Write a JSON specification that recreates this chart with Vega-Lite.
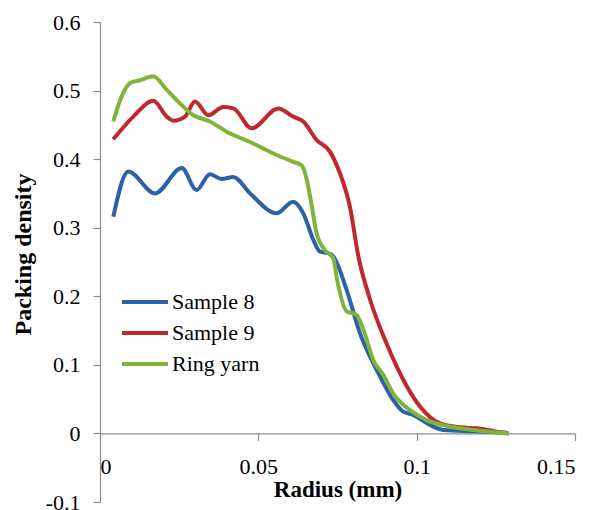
{
  "$schema": "https://vega.github.io/schema/vega-lite/v6.json",
  "width": 475,
  "height": 480,
  "autosize": {"type": "none"},
  "padding": {"left": 100, "top": 22, "right": 22, "bottom": 8},
  "background": "white",
  "config": {
    "view": {"stroke": null},
    "font": "Liberation Serif, Times New Roman, serif",
    "axis": {"grid": false, "domainColor": "#8c8c8c", "tickColor": "#8c8c8c", "labelColor": "black", "titleColor": "black", "labelFont": "Liberation Serif, Times New Roman, serif", "titleFont": "Liberation Serif, Times New Roman, serif", "labelFontSize": 22, "titleFontSize": 23, "titleFontWeight": "bold", "domainWidth": 1.2, "tickWidth": 1.2}
  },
  "data": {"values": [
    {"s": "Sample 8", "x": 0.0042, "y": 0.316},
    {"s": "Sample 8", "x": 0.0089, "y": 0.382},
    {"s": "Sample 8", "x": 0.0174, "y": 0.350},
    {"s": "Sample 8", "x": 0.0258, "y": 0.387},
    {"s": "Sample 8", "x": 0.0305, "y": 0.355},
    {"s": "Sample 8", "x": 0.0347, "y": 0.378},
    {"s": "Sample 8", "x": 0.0384, "y": 0.371},
    {"s": "Sample 8", "x": 0.0421, "y": 0.374},
    {"s": "Sample 8", "x": 0.0474, "y": 0.350},
    {"s": "Sample 8", "x": 0.0558, "y": 0.321},
    {"s": "Sample 8", "x": 0.0610, "y": 0.338},
    {"s": "Sample 8", "x": 0.0642, "y": 0.321},
    {"s": "Sample 8", "x": 0.0674, "y": 0.282},
    {"s": "Sample 8", "x": 0.0695, "y": 0.265},
    {"s": "Sample 8", "x": 0.0721, "y": 0.263},
    {"s": "Sample 8", "x": 0.0737, "y": 0.258},
    {"s": "Sample 8", "x": 0.0779, "y": 0.209},
    {"s": "Sample 8", "x": 0.0821, "y": 0.146},
    {"s": "Sample 8", "x": 0.0874, "y": 0.0925},
    {"s": "Sample 8", "x": 0.0926, "y": 0.0487},
    {"s": "Sample 8", "x": 0.0958, "y": 0.0317},
    {"s": "Sample 8", "x": 0.0990, "y": 0.0268},
    {"s": "Sample 8", "x": 0.1042, "y": 0.0122},
    {"s": "Sample 8", "x": 0.1084, "y": 0.005},
    {"s": "Sample 8", "x": 0.1180, "y": 0.003},
    {"s": "Sample 8", "x": 0.1284, "y": 0.001},
    {"s": "Sample 9", "x": 0.0042, "y": 0.429},
    {"s": "Sample 9", "x": 0.0105, "y": 0.462},
    {"s": "Sample 9", "x": 0.0168, "y": 0.485},
    {"s": "Sample 9", "x": 0.0211, "y": 0.462},
    {"s": "Sample 9", "x": 0.0232, "y": 0.456},
    {"s": "Sample 9", "x": 0.0268, "y": 0.462},
    {"s": "Sample 9", "x": 0.0300, "y": 0.484},
    {"s": "Sample 9", "x": 0.0342, "y": 0.464},
    {"s": "Sample 9", "x": 0.0389, "y": 0.476},
    {"s": "Sample 9", "x": 0.0421, "y": 0.474},
    {"s": "Sample 9", "x": 0.0479, "y": 0.445},
    {"s": "Sample 9", "x": 0.0563, "y": 0.474},
    {"s": "Sample 9", "x": 0.0610, "y": 0.462},
    {"s": "Sample 9", "x": 0.0642, "y": 0.455},
    {"s": "Sample 9", "x": 0.0684, "y": 0.428},
    {"s": "Sample 9", "x": 0.0726, "y": 0.411},
    {"s": "Sample 9", "x": 0.0758, "y": 0.379},
    {"s": "Sample 9", "x": 0.0789, "y": 0.331},
    {"s": "Sample 9", "x": 0.0816, "y": 0.258},
    {"s": "Sample 9", "x": 0.0853, "y": 0.195},
    {"s": "Sample 9", "x": 0.0905, "y": 0.131},
    {"s": "Sample 9", "x": 0.0958, "y": 0.078},
    {"s": "Sample 9", "x": 0.1011, "y": 0.039},
    {"s": "Sample 9", "x": 0.1074, "y": 0.0147},
    {"s": "Sample 9", "x": 0.1137, "y": 0.0089},
    {"s": "Sample 9", "x": 0.1190, "y": 0.0074},
    {"s": "Sample 9", "x": 0.1253, "y": 0.0025},
    {"s": "Sample 9", "x": 0.1290, "y": 0.0},
    {"s": "Ring yarn", "x": 0.0042, "y": 0.455},
    {"s": "Ring yarn", "x": 0.0068, "y": 0.491},
    {"s": "Ring yarn", "x": 0.0095, "y": 0.511},
    {"s": "Ring yarn", "x": 0.0126, "y": 0.515},
    {"s": "Ring yarn", "x": 0.0168, "y": 0.521},
    {"s": "Ring yarn", "x": 0.0211, "y": 0.501},
    {"s": "Ring yarn", "x": 0.0253, "y": 0.481},
    {"s": "Ring yarn", "x": 0.0295, "y": 0.464},
    {"s": "Ring yarn", "x": 0.0347, "y": 0.455},
    {"s": "Ring yarn", "x": 0.0400, "y": 0.440},
    {"s": "Ring yarn", "x": 0.0474, "y": 0.425},
    {"s": "Ring yarn", "x": 0.0558, "y": 0.406},
    {"s": "Ring yarn", "x": 0.0610, "y": 0.396},
    {"s": "Ring yarn", "x": 0.0637, "y": 0.391},
    {"s": "Ring yarn", "x": 0.0653, "y": 0.370},
    {"s": "Ring yarn", "x": 0.0669, "y": 0.331},
    {"s": "Ring yarn", "x": 0.0684, "y": 0.292},
    {"s": "Ring yarn", "x": 0.0711, "y": 0.267},
    {"s": "Ring yarn", "x": 0.0737, "y": 0.255},
    {"s": "Ring yarn", "x": 0.0747, "y": 0.2286},
    {"s": "Ring yarn", "x": 0.0779, "y": 0.178},
    {"s": "Ring yarn", "x": 0.0810, "y": 0.173},
    {"s": "Ring yarn", "x": 0.0832, "y": 0.151},
    {"s": "Ring yarn", "x": 0.0863, "y": 0.107},
    {"s": "Ring yarn", "x": 0.0895, "y": 0.085},
    {"s": "Ring yarn", "x": 0.0926, "y": 0.058},
    {"s": "Ring yarn", "x": 0.0979, "y": 0.034},
    {"s": "Ring yarn", "x": 0.1032, "y": 0.0195},
    {"s": "Ring yarn", "x": 0.1095, "y": 0.0108},
    {"s": "Ring yarn", "x": 0.1179, "y": 0.005},
    {"s": "Ring yarn", "x": 0.1290, "y": 0.0}
  ]},
  "mark": {"type": "line", "interpolate": "monotone", "strokeWidth": 4},
  "encoding": {
    "x": {"field": "x", "type": "quantitative", "scale": {"domain": [0, 0.15], "nice": false, "zero": false},
      "axis": {"values": [0, 0.05, 0.1, 0.15], "format": ".2~f", "offset": -68.57, "tickSize": 7, "labelPadding": 16, "title": "Radius (mm)", "titlePadding": 1}},
    "y": {"field": "y", "type": "quantitative", "scale": {"domain": [-0.1, 0.6], "nice": false, "zero": false},
      "axis": {"values": [-0.1, 0, 0.1, 0.2, 0.3, 0.4, 0.5, 0.6], "format": ".1~f", "labelExpr": "replace(datum.label, '\u2212', '-')", "tickSize": 7, "labelPadding": 13, "title": "Packing density", "titleFontSize": 24, "titlePadding": 10, "titleY": 232}},
    "color": {"field": "s", "type": "nominal", "sort": ["Sample 8", "Sample 9", "Ring yarn"],
      "scale": {"domain": ["Sample 8", "Sample 9", "Ring yarn"], "range": ["#2b60aa", "#c1282d", "#7fb43a"]},
      "legend": {"title": null, "orient": "none", "legendX": 33, "legendY": 268, "padding": 0, "symbolType": "M-2.3,0H2.3", "symbolSize": 400, "symbolStrokeWidth": 4, "symbolFillColor": "transparent", "labelFont": "Liberation Serif, Times New Roman, serif", "labelFontSize": 22, "labelColor": "black", "labelOffset": 15, "rowPadding": 8}}
  }
}
